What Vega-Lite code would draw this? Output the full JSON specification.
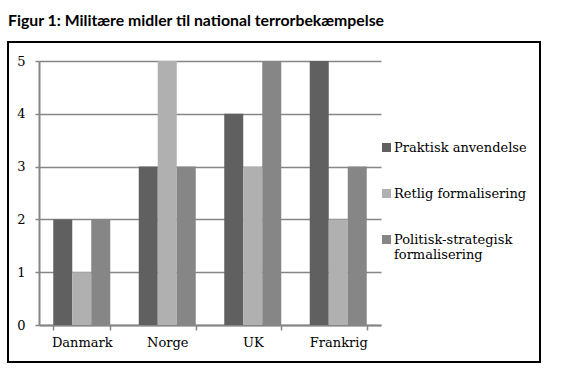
{
  "$schema": "https://vega.github.io/schema/vega-lite/v6.json",
  "width": 532,
  "height": 320,
  "autosize": {"type": "none"},
  "padding": {"left": 8, "top": 42, "right": 31, "bottom": 22},
  "background": "white",
  "title": {
    "text": "Figur 1: Militære midler til national terrorbekæmpelse",
    "anchor": "start",
    "frame": "group",
    "font": "Lato",
    "fontWeight": "bold",
    "fontSize": 15.8,
    "color": "black",
    "baseline": "alphabetic",
    "offset": 0
  },
  "data": {
    "values": [
      {"land": "Danmark", "serie": "Praktisk anvendelse", "vaerdi": 2},
      {"land": "Danmark", "serie": "Retlig formalisering", "vaerdi": 1},
      {"land": "Danmark", "serie": "Politisk-strategisk formalisering", "vaerdi": 2},
      {"land": "Norge", "serie": "Praktisk anvendelse", "vaerdi": 3},
      {"land": "Norge", "serie": "Retlig formalisering", "vaerdi": 5},
      {"land": "Norge", "serie": "Politisk-strategisk formalisering", "vaerdi": 3},
      {"land": "UK", "serie": "Praktisk anvendelse", "vaerdi": 4},
      {"land": "UK", "serie": "Retlig formalisering", "vaerdi": 3},
      {"land": "UK", "serie": "Politisk-strategisk formalisering", "vaerdi": 5},
      {"land": "Frankrig", "serie": "Praktisk anvendelse", "vaerdi": 5},
      {"land": "Frankrig", "serie": "Retlig formalisering", "vaerdi": 2},
      {"land": "Frankrig", "serie": "Politisk-strategisk formalisering", "vaerdi": 3}
    ]
  },
  "mark": {"type": "bar"},
  "encoding": {
    "x": {
      "field": "land",
      "type": "nominal",
      "sort": ["Danmark", "Norge", "UK", "Frankrig"],
      "scale": {"range": [31, 373], "paddingInner": 0.3333, "paddingOuter": 0.1667},
      "axis": {
        "title": null,
        "offset": -37,
        "labelAngle": 0,
        "labelFont": "DejaVu Serif",
        "labelFontSize": 13,
        "labelColor": "black",
        "labelPadding": 6,
        "tickBand": "extent",
        "tickSize": 5,
        "tickColor": "#868686",
        "tickWidth": 1.5,
        "domainColor": "#868686",
        "domainWidth": 2
      }
    },
    "xOffset": {
      "field": "serie",
      "type": "nominal",
      "sort": ["Praktisk anvendelse", "Retlig formalisering", "Politisk-strategisk formalisering"],
      "scale": {"paddingInner": 0, "paddingOuter": 0}
    },
    "y": {
      "field": "vaerdi",
      "type": "quantitative",
      "scale": {"domain": [0, 5], "range": [283, 19], "nice": false},
      "axis": {
        "title": null,
        "offset": -31,
        "values": [0, 1, 2, 3, 4, 5],
        "labelFont": "DejaVu Serif",
        "labelFontSize": 13,
        "labelColor": "black",
        "labelPadding": 10,
        "tickSize": 4,
        "tickColor": "#868686",
        "tickWidth": 1.5,
        "domainColor": "#868686",
        "domainWidth": 2,
        "grid": true,
        "gridColor": "#868686",
        "gridWidth": 1.5
      }
    },
    "color": {
      "field": "serie",
      "type": "nominal",
      "sort": ["Praktisk anvendelse", "Retlig formalisering", "Politisk-strategisk formalisering"],
      "scale": {"range": ["#606060", "#b0b0b0", "#868686"]},
      "legend": {
        "title": null,
        "orient": "none",
        "legendX": 372,
        "legendY": 99,
        "padding": 0,
        "symbolType": "square",
        "symbolSize": 81,
        "symbolStrokeWidth": 0,
        "labelFont": "DejaVu Serif",
        "labelFontSize": 13,
        "labelColor": "black",
        "labelOffset": 1,
        "labelLimit": 0,
        "labelBaseline": "middle",
        "rowPadding": 32,
        "labelExpr": "datum.label == 'Politisk-strategisk formalisering' ? ['Politisk-strategisk', 'formalisering'] : datum.label"
      }
    }
  },
  "config": {
    "view": {"stroke": "black", "strokeWidth": 2},
    "axis": {"gridCap": "butt"}
  }
}
